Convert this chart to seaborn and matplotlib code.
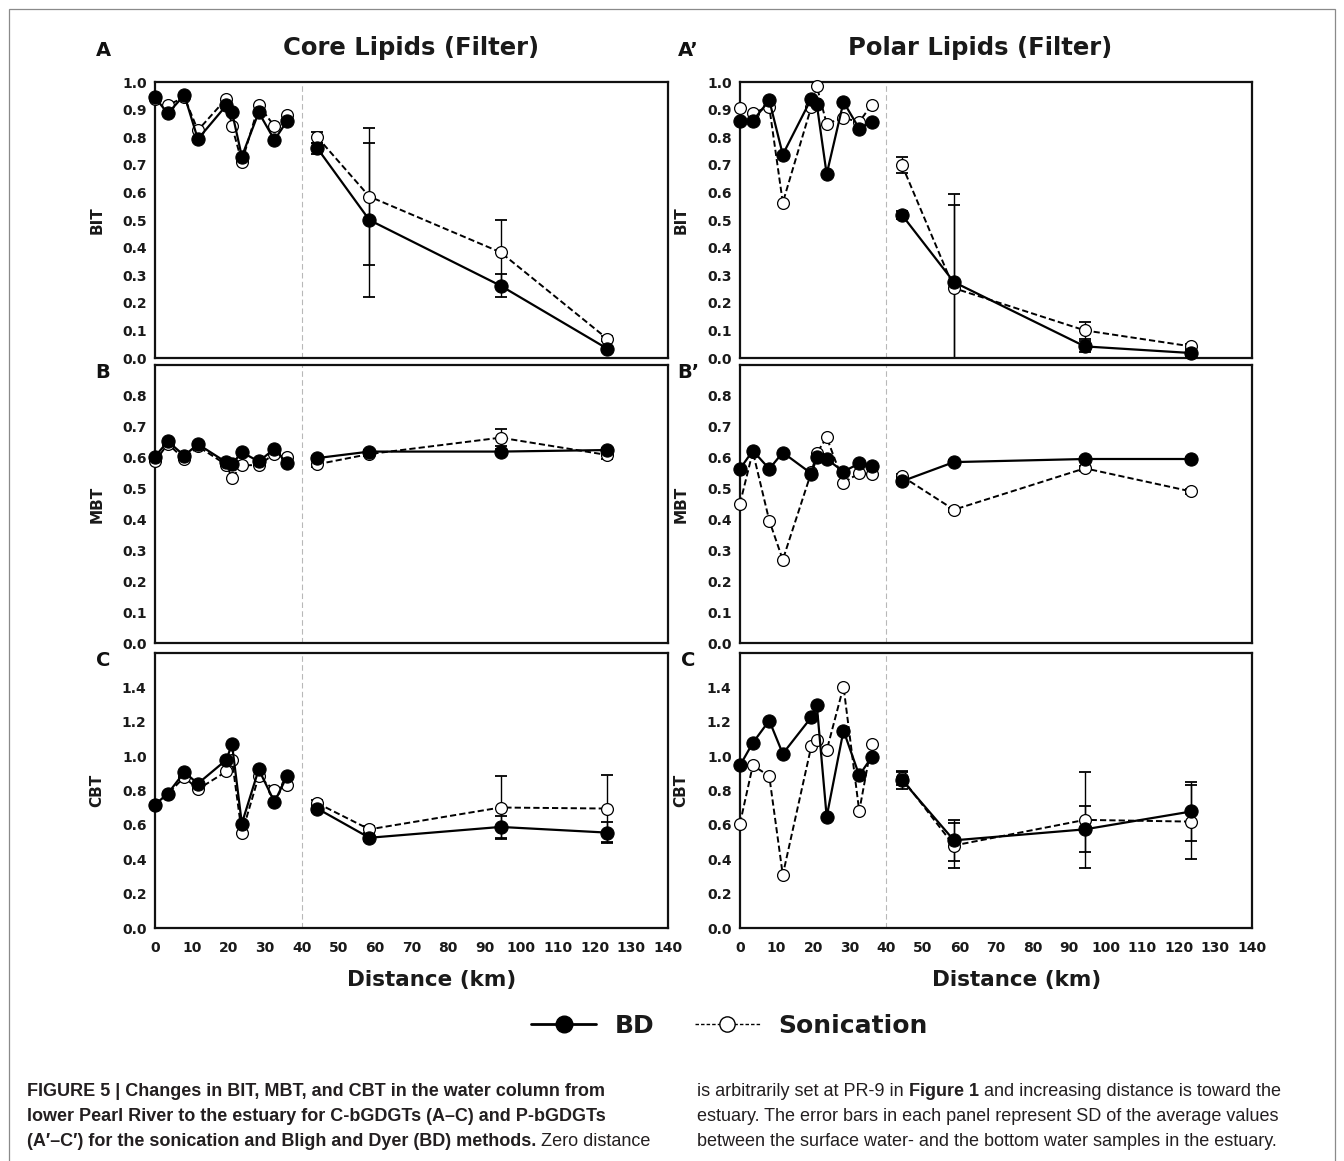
import numpy as np
import pandas as pd
import matplotlib
matplotlib.use("Agg")
import matplotlib.pyplot as plt
import seaborn as sns
from matplotlib import font_manager
from matplotlib.lines import Line2D
from matplotlib.patches import Rectangle

# ---------------- data ----------------
near_x = [0, 3.5, 8, 11.7, 19.5, 21, 23.7, 28.3, 32.6, 36]
far_x = [44.3, 58.5, 94.3, 123.4]

# Core lipids (A-C)
bit_core_bd_near = [0.944, 0.886, 0.953, 0.793, 0.916, 0.892, 0.730, 0.890, 0.790, 0.858]
bit_core_son_near = [0.940, 0.916, 0.945, 0.825, 0.940, 0.840, 0.710, 0.915, 0.840, 0.880]
bit_core_bd_far = [0.760, 0.500, 0.262, 0.034]
bit_core_son_far = [0.800, 0.585, 0.383, 0.070]
bit_core_bd_sd = [0.020, 0.280, 0.042, 0.008]
bit_core_son_sd = [0.020, 0.247, 0.117, 0.008]

mbt_core_bd_near = [0.604, 0.653, 0.607, 0.644, 0.585, 0.579, 0.618, 0.588, 0.629, 0.582]
mbt_core_son_near = [0.588, 0.645, 0.596, 0.637, 0.577, 0.535, 0.575, 0.577, 0.612, 0.601]
mbt_core_bd_far = [0.599, 0.620, 0.620, 0.625]
mbt_core_son_far = [0.579, 0.612, 0.665, 0.609]
mbt_core_bd_sd = [0.008, 0.006, 0.008, 0.008]
mbt_core_son_sd = [0.010, 0.005, 0.027, 0.012]

cbt_core_bd_near = [0.718, 0.782, 0.907, 0.840, 0.979, 1.071, 0.608, 0.923, 0.734, 0.882]
cbt_core_son_near = [0.718, 0.780, 0.878, 0.807, 0.911, 0.979, 0.550, 0.882, 0.801, 0.834]
cbt_core_bd_far = [0.695, 0.525, 0.588, 0.555]
cbt_core_son_far = [0.726, 0.574, 0.701, 0.695]
cbt_core_bd_sd = [0.020, 0.020, 0.065, 0.060]
cbt_core_son_sd = [0.020, 0.020, 0.185, 0.195]

# Polar lipids (A'-C')
bit_polar_bd_near = [0.858, 0.859, 0.934, 0.737, 0.940, 0.919, 0.666, 0.928, 0.831, 0.855]
bit_polar_son_near = [0.906, 0.888, 0.910, 0.563, 0.910, 0.984, 0.849, 0.870, 0.855, 0.918]
bit_polar_bd_far = [0.518, 0.275, 0.042, 0.018]
bit_polar_son_far = [0.699, 0.253, 0.100, 0.042]
bit_polar_bd_sd = [0.015, 0.318, 0.020, 0.010]
bit_polar_son_sd = [0.028, 0.300, 0.030, 0.010]

mbt_polar_bd_near = [0.564, 0.623, 0.564, 0.617, 0.549, 0.601, 0.596, 0.555, 0.582, 0.573]
mbt_polar_son_near = [0.452, 0.620, 0.397, 0.270, 0.553, 0.615, 0.666, 0.520, 0.550, 0.546]
mbt_polar_bd_far = [0.524, 0.586, 0.596, 0.596]
mbt_polar_son_far = [0.540, 0.432, 0.566, 0.491]
mbt_polar_bd_sd = [0.008, 0.006, 0.006, 0.006]
mbt_polar_son_sd = [0.008, 0.006, 0.008, 0.008]

cbt_polar_bd_near = [0.946, 1.077, 1.207, 1.014, 1.226, 1.297, 0.647, 1.149, 0.888, 0.994]
cbt_polar_son_near = [0.608, 0.946, 0.884, 0.309, 1.058, 1.091, 1.033, 1.405, 0.680, 1.071]
cbt_polar_bd_far = [0.861, 0.510, 0.574, 0.678]
cbt_polar_son_far = [0.870, 0.480, 0.629, 0.619]
cbt_polar_bd_sd = [0.050, 0.120, 0.133, 0.173]
cbt_polar_son_sd = [0.040, 0.130, 0.280, 0.215]

x_ticks = list(range(0, 141, 10))
titles = ["Core Lipids (Filter)", "Polar Lipids (Filter)"]
letters = [["A", "B", "C"], ["A\u2019", "B\u2019", "C"]]
ylabels = ["BIT", "MBT", "CBT"]

# ---------------- style ----------------
sns.set_theme(style="white")
plt.rcParams["font.family"] = ["DejaVu Sans"]
plt.rcParams["font.weight"] = "bold"

W, H = 1344, 1161
fig = plt.figure(figsize=(W / 100, H / 100), dpi=100)
fig.patch.set_facecolor("white")

col_left = [155, 740]
col_w = [513, 512]
rows = [(82, 358), (365, 643.3), (653, 928)]
ylims = [(0, 1.0), (0, 0.9), (0, 1.6)]
yticks = [np.round(np.arange(0, 1.01, 0.1), 1), np.round(np.arange(0, 0.81, 0.1), 1),
          np.round(np.arange(0, 1.41, 0.2), 1)]

data = {
    0: [
        (bit_core_bd_near, bit_core_son_near, bit_core_bd_far, bit_core_son_far, bit_core_bd_sd, bit_core_son_sd),
        (mbt_core_bd_near, mbt_core_son_near, mbt_core_bd_far, mbt_core_son_far, mbt_core_bd_sd, mbt_core_son_sd),
        (cbt_core_bd_near, cbt_core_son_near, cbt_core_bd_far, cbt_core_son_far, cbt_core_bd_sd, cbt_core_son_sd),
    ],
    1: [
        (bit_polar_bd_near, bit_polar_son_near, bit_polar_bd_far, bit_polar_son_far, bit_polar_bd_sd, bit_polar_son_sd),
        (mbt_polar_bd_near, mbt_polar_son_near, mbt_polar_bd_far, mbt_polar_son_far, mbt_polar_bd_sd, mbt_polar_son_sd),
        (cbt_polar_bd_near, cbt_polar_son_near, cbt_polar_bd_far, cbt_polar_son_far, cbt_polar_bd_sd, cbt_polar_son_sd),
    ],
}

son_kw = dict(color="black", lw=1.4, linestyle=(0, (3.2, 1.6)), marker="o", markersize=8.5,
              markerfacecolor="white", markeredgecolor="black", markeredgewidth=0.9,
              clip_on=False, zorder=3)
bd_kw = dict(color="black", lw=1.6, linestyle="-", marker="o", markersize=9.5,
             markerfacecolor="black", markeredgecolor="black", markeredgewidth=0.8,
             clip_on=False, zorder=4)

for c in range(2):
    for r in range(3):
        top, bot = rows[r]
        ax = fig.add_axes([col_left[c] / W, 1 - bot / H, col_w[c] / W, (bot - top) / H])
        bd_n, son_n, bd_f, son_f, bd_sd, son_sd = data[c][r]
        ax.axvline(40, color="#b8b8b8", lw=0.8, ls=(0, (5, 3)), zorder=0)
        for xs, s_vals, b_vals in [(near_x, son_n, bd_n), (far_x, son_f, bd_f)]:
            sns.lineplot(x=xs, y=s_vals, ax=ax, **son_kw)
            sns.lineplot(x=xs, y=b_vals, ax=ax, **bd_kw)
        ax.errorbar(far_x, son_f, yerr=son_sd, fmt="none", ecolor="black", elinewidth=1.0,
                    capsize=4, capthick=1.3, zorder=2)
        ax.errorbar(far_x, bd_f, yerr=bd_sd, fmt="none", ecolor="black", elinewidth=1.0,
                    capsize=4, capthick=1.3, zorder=2)
        ax.set_xlim(0, 140)
        ax.set_ylim(*ylims[r])
        ax.set_xticks(x_ticks)
        ax.set_yticks(yticks[r])
        ax.set_yticklabels([f"{v:.1f}" for v in yticks[r]])
        ax.tick_params(direction="in", length=4, width=1.1, colors="black",
                       labelsize=10, pad=6)
        ax.tick_params(axis="x", pad=9)
        if r < 2:
            ax.tick_params(labelbottom=False)
        for lab in ax.get_xticklabels() + ax.get_yticklabels():
            lab.set_fontweight("bold")
            lab.set_color("#1a1a1a")
        for sp in ax.spines.values():
            sp.set_linewidth(1.6)
            sp.set_color("#111111")
        ax.set_xlabel("")
        ax.set_ylabel(ylabels[r], fontsize=11, fontweight="bold", color="#1a1a1a")
        ax.yaxis.set_label_coords(-0.098 if c == 0 else -0.101, 0.5)
        ax.set_facecolor("white")
        # panel letters
        lx = 103 if c == 0 else 688
        ly = [50, 372, 660][r]
        fig.text(lx / W, 1 - ly / H, letters[c][r], fontsize=14, fontweight="bold",
                 ha="center", va="center", color="#111111")

# titles
fig.text(411 / W, 1 - 48 / H, titles[0], fontsize=17.5, fontweight="bold",
         ha="center", va="center", color="#1a1a1a")
fig.text(980 / W, 1 - 48 / H, titles[1], fontsize=17.5, fontweight="bold",
         ha="center", va="center", color="#1a1a1a")
# x labels
fig.text(432 / W, 1 - 980 / H, "Distance (km)", fontsize=15.5, fontweight="bold",
         ha="center", va="center", color="#1a1a1a")
fig.text(1017 / W, 1 - 980 / H, "Distance (km)", fontsize=15.5, fontweight="bold",
         ha="center", va="center", color="#1a1a1a")

# legend
handles = [
    Line2D([], [], color="black", lw=2.0, marker="o", markersize=12, markerfacecolor="black"),
    Line2D([], [], color="black", lw=1.0, linestyle=(0, (2.5, 1.5)), marker="o", markersize=11,
           markerfacecolor="white", markeredgewidth=1.0),
]
fig.legend(handles, ["BD", "Sonication"], loc="center", bbox_to_anchor=(729.5 / W, 1 - 1026 / H),
           ncol=2, frameon=False, handlelength=2.6, handletextpad=0.75, columnspacing=1.6,
           prop={"weight": "bold", "size": 18, "family": "DejaVu Sans"}, labelcolor="#1a1a1a")

# frame
fig.patches.append(Rectangle((9 / W, -0.02), (1335 - 9) / W, 1.02 - 9 / H, transform=fig.transFigure,
                             fill=False, edgecolor="#8a8a8a", lw=0.9))

# caption
names = {f.name for f in font_manager.fontManager.ttflist}
cap_font = next((n for n in ["Liberation Sans", "Roboto", "Noto Sans"] if n in names), "DejaVu Sans")
renderer = fig.canvas.get_renderer()


def measure(txt, size, bold):
    t = fig.text(0, 0, txt, fontsize=size, fontweight="bold" if bold else "normal",
                 family=cap_font)
    w = t.get_window_extent(renderer).width
    t.remove()
    return w


line1 = "FIGURE 5 | Changes in BIT, MBT, and CBT in the water column from"
cap_size = 10 * 590 / measure(line1, 10, True)
cap_size = max(9.0, min(cap_size, 13.0))
space_w = measure("a a", cap_size, False) - measure("aa", cap_size, False)


def runs(x_px, y_px, parts):
    x = x_px
    for i, (txt, bold) in enumerate(parts):
        if txt.startswith(" "):
            x += space_w
            txt = txt[1:]
        t = fig.text(x / W, 1 - y_px / H, txt, fontsize=cap_size,
                     fontweight="bold" if bold else "normal", family=cap_font,
                     ha="left", va="baseline", color="#231f20")
        x += t.get_window_extent(renderer).width
        if txt.endswith(" "):
            x += space_w


left_lines = [
    [(line1, True)],
    [("lower Pearl River to the estuary for C-bGDGTs (A\u2013C) and P-bGDGTs", True)],
    [("(A\u2032\u2013C\u2032) for the sonication and Bligh and Dyer (BD) methods.", True),
     (" Zero distance", False)],
]
right_lines = [
    [("is arbitrarily set at PR-9 in", False), (" Figure 1", True),
     (" and increasing distance is toward the", False)],
    [("estuary. The error bars in each panel represent SD of the average values", False)],
    [("between the surface water- and the bottom water samples in the estuary.", False)],
]
for i, (ll, rl) in enumerate(zip(left_lines, right_lines)):
    y = 1096 + 25 * i
    runs(27, y, ll)
    runs(697, y, rl)

fig.savefig("out.png", dpi=100, facecolor="white")
